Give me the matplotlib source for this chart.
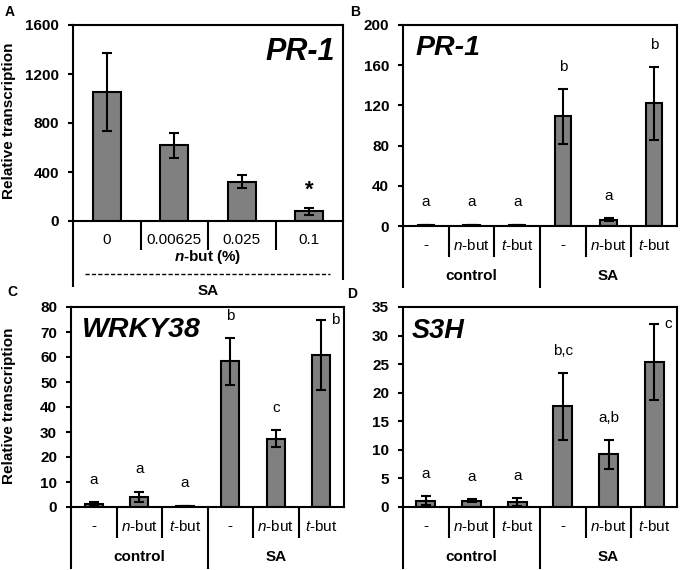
import matplotlib
matplotlib.use('Agg')
import matplotlib.pyplot as plt
import numpy as np

plt.rcParams['font.family'] = ['Liberation Sans', 'DejaVu Sans']
plt.rcParams['mathtext.fontset'] = 'custom'
plt.rcParams['mathtext.rm'] = 'Liberation Sans'
plt.rcParams['mathtext.it'] = 'Liberation Sans:italic'
plt.rcParams['mathtext.bf'] = 'Liberation Sans:bold'
plt.rcParams['mathtext.bfit'] = 'Liberation Sans:italic:bold'

# ---------------- data ----------------
a_cats = ['0', '0.00625', '0.025', '0.1']
a_vals = [1055, 618, 322, 80]
a_errs = [320, 100, 50, 30]
a_marks = ['', '', '', '*']

treat_labels = ['-', r'$\it{n}$-but', r'$\it{t}$-but', '-', r'$\it{n}$-but', r'$\it{t}$-but']
groups = ['control', 'SA']

b_vals = [1.0, 1.0, 1.0, 109, 6.0, 122]
b_errs = [0.3, 0.3, 0.3, 27, 1.5, 36]
b_letters = ['a', 'a', 'a', 'b', 'a', 'b']

c_vals = [1.1, 4.1, 0.4, 58.3, 27.3, 60.7]
c_errs = [0.8, 2.0, 0.1, 9.3, 3.4, 14.0]
c_letters = ['a', 'a', 'a', 'b', 'c', 'b']

d_vals = [1.1, 1.1, 0.9, 17.6, 9.2, 25.4]
d_errs = [0.8, 0.25, 0.7, 5.8, 2.5, 6.7]
d_letters = ['a', 'a', 'a', 'b,c', 'a,b', 'c']

W, H = 680, 570
fig = plt.figure(figsize=(W / 100, H / 100), dpi=100)

BAR = '#808080'
LW = 1.5
PX = 0.72  # points per pixel
FS = 11


def make_ax(l, t, r, b):
    ax = fig.add_axes([l / W, 1 - b / H, (r - l) / W, (b - t) / H])
    for s in ax.spines.values():
        s.set_linewidth(LW)
    return ax, (b - t)


def bars(ax, vals, errs, width, ylim, step):
    x = np.arange(len(vals))
    ax.bar(x, vals, width=width, color=BAR, edgecolor='black', linewidth=LW, zorder=2)
    ax.errorbar(x, vals, yerr=errs, fmt='none', ecolor='black', elinewidth=LW,
                capsize=3.5, capthick=LW, zorder=3)
    ax.set_xlim(-0.5, len(vals) - 0.5)
    ax.set_ylim(0, ylim)
    ax.set_yticks(np.arange(0, ylim + step / 2, step))
    ax.tick_params(axis='y', direction='out', length=3.5, width=LW, pad=6.5, labelsize=FS)
    for lab in ax.get_yticklabels():
        lab.set_fontweight('bold')
    ax.tick_params(axis='x', length=0, pad=8.5, labelsize=FS)
    return x


def vline(ax, x, px, h):
    ax.plot([x, x], [0, -px / h], transform=ax.get_xaxis_transform(), clip_on=False,
            color='black', lw=LW, solid_capstyle='butt')


def below_text(ax, x, px, s, **kw):
    ax.annotate(s, xy=(x, 0), xycoords=('data', 'axes fraction'),
                xytext=(0, -px * PX), textcoords='offset points',
                ha='center', va='center', fontsize=FS, annotation_clip=False, **kw)


def letters(ax, x, vals, errs, labs, ylim):
    for xi, v, e, s in zip(x, vals, errs, labs):
        top = v + e
        if top > ylim * 0.9:
            ax.annotate(s, xy=(xi, top), xytext=(7, 0), textcoords='offset points',
                        ha='left', va='center', fontsize=FS)
        else:
            ax.annotate(s, xy=(xi, top), xytext=(0, 11), textcoords='offset points',
                        ha='center', va='bottom', fontsize=FS)


def grouped(ax, h, vals, errs, labs, ylim, step, width):
    x = bars(ax, vals, errs, width, ylim, step)
    ax.set_xticks(x)
    ax.set_xticklabels(treat_labels)
    letters(ax, x, vals, errs, labs, ylim)
    for xi in [0.5, 1.5, 3.5, 4.5]:
        vline(ax, xi, 31, h)
    vline(ax, 2.5, 62, h)
    vline(ax, -0.5, 62, h)
    below_text(ax, 1, 50, groups[0], fontweight='bold')
    below_text(ax, 4, 50, groups[1], fontweight='bold')


# ---------------- Panel A ----------------
axA, hA = make_ax(73, 25, 343, 221)
xa = bars(axA, a_vals, a_errs, 0.42, 1600, 400)
axA.set_xticks(xa)
axA.set_xticklabels(a_cats)
for xi, v, e, s in zip(xa, a_vals, a_errs, a_marks):
    if s:
        axA.annotate(s, xy=(xi, v + e), xytext=(0, 5), textcoords='offset points',
                     ha='center', va='bottom', fontsize=16, fontweight='bold')
for xi in [0.5, 1.5, 2.5]:
    vline(axA, xi, 29, hA)
vline(axA, -0.5, 66, hA)
vline(axA, 3.5, 59, hA)
below_text(axA, 1.5, 36, r'$\mathbfit{n}$-but (%)', fontweight='bold')
axA.plot([0.045, 0.95], [-53 / hA, -53 / hA], transform=axA.transAxes, clip_on=False,
         color='black', lw=1.0, linestyle=(0, (3, 1.6)))
below_text(axA, 1.5, 70, 'SA', fontweight='bold')
axA.text(0.97, 0.862, 'PR-1', transform=axA.transAxes, ha='right', va='center',
         fontsize=22, fontweight='bold', fontstyle='italic')

# ---------------- Panel B ----------------
axB, hB = make_ax(403, 25, 677, 226)
grouped(axB, hB, b_vals, b_errs, b_letters, 200, 40, 0.36)
axB.text(0.044, 0.886, 'PR-1', transform=axB.transAxes, ha='left', va='center',
         fontsize=20.5, fontweight='bold', fontstyle='italic')

# ---------------- Panel C ----------------
axC, hC = make_ax(71, 307, 344, 507)
grouped(axC, hC, c_vals, c_errs, c_letters, 80, 10, 0.40)
axC.text(0.04, 0.885, 'WRKY38', transform=axC.transAxes, ha='left', va='center',
         fontsize=20.5, fontweight='bold', fontstyle='italic')

# ---------------- Panel D ----------------
axD, hD = make_ax(403, 307, 677, 507)
grouped(axD, hD, d_vals, d_errs, d_letters, 35, 5, 0.42)
axD.text(0.033, 0.88, 'S3H', transform=axD.transAxes, ha='left', va='center',
         fontsize=19.5, fontweight='bold', fontstyle='italic')

# y labels and panel letters
fig.text(9 / W, 1 - 121 / H, 'Relative transcription', rotation=90, ha='center',
         va='center', fontsize=FS, fontweight='bold')
fig.text(9 / W, 1 - 406 / H, 'Relative transcription', rotation=90, ha='center',
         va='center', fontsize=FS, fontweight='bold')
for s, (px, py) in zip('ABCD', [(10, 12), (355, 12), (12, 292), (352, 294)]):
    fig.text(px / W, 1 - py / H, s, ha='center', va='center', fontsize=10, fontweight='bold')

fig.savefig('out.png', dpi=100)
